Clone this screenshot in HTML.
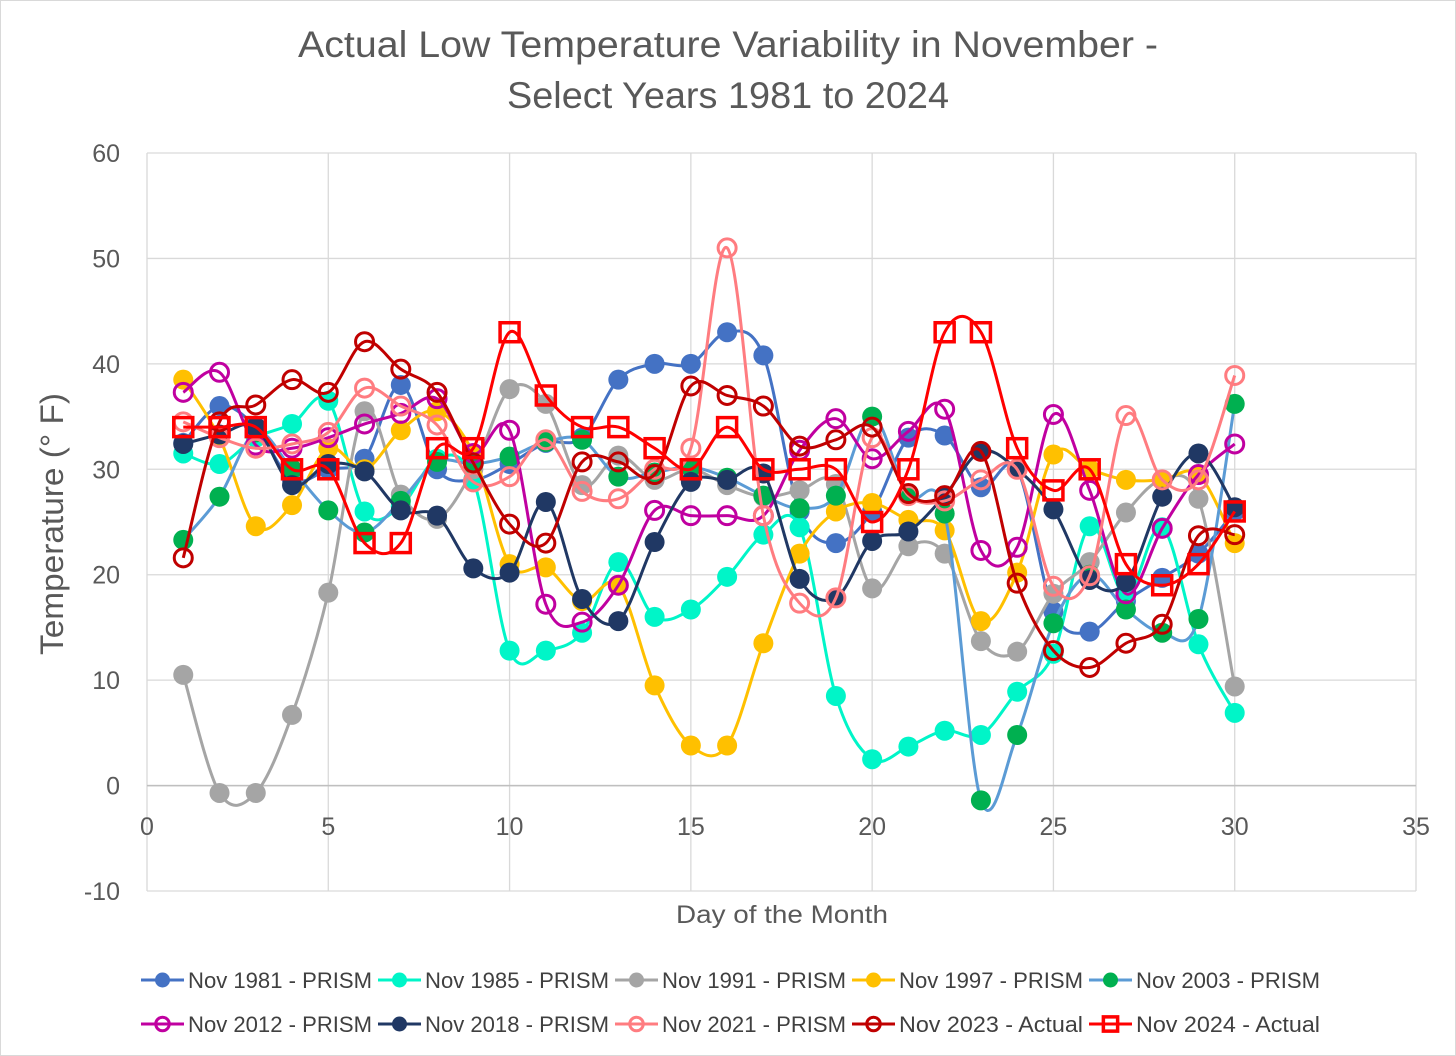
<!DOCTYPE html>
<html><head><meta charset="utf-8"><style>
html,body{margin:0;padding:0;background:#fff;}
svg{display:block;font-family:"Liberation Sans",sans-serif;}
</style></head><body>
<svg id="chart" width="1456" height="1056" viewBox="0 0 1456 1056" xmlns="http://www.w3.org/2000/svg">
<rect x="0.5" y="0.5" width="1455" height="1055" fill="#fff" stroke="#d9d9d9"/>
<text x="728" y="57" text-anchor="middle" font-size="37" fill="#595959" textLength="860" lengthAdjust="spacingAndGlyphs">Actual Low Temperature Variability in November -</text>
<text x="728" y="108" text-anchor="middle" font-size="37" fill="#595959" textLength="442" lengthAdjust="spacingAndGlyphs">Select Years 1981 to 2024</text>
<g id="grid"></g>
<g id="axes"></g>
<g id="series"></g>
<text x="63" y="524" text-anchor="middle" font-size="32" fill="#595959" textLength="262" lengthAdjust="spacingAndGlyphs" transform="rotate(-90 63 524)">Temperature (° F)</text>
<text x="782" y="923" text-anchor="middle" font-size="25" fill="#595959" textLength="212" lengthAdjust="spacingAndGlyphs">Day of the Month</text>
<g id="legend"></g>
</svg>
<script>
const days = [1,2,3,4,5,6,7,8,9,10,11,12,13,14,15,16,17,18,19,20,21,22,23,24,25,26,27,28,29,30];
const xTicks = [0,5,10,15,20,25,30,35];
const yTicks = [-10,0,10,20,30,40,50,60];
const seriesNames = ["Nov 1981 - PRISM","Nov 1985 - PRISM","Nov 1991 - PRISM","Nov 1997 - PRISM","Nov 2003 - PRISM","Nov 2012 - PRISM","Nov 2018 - PRISM","Nov 2021 - PRISM","Nov 2023 - Actual","Nov 2024 - Actual"];
const nov1981 = [32.5,36,34,29,30,31,38,30,29,30.5,32.5,33,38.5,40,40,43,40.8,26,23,26,33,33.2,28.3,30,16.5,14.6,17.5,19.7,22,26];
const nov1985 = [31.5,30.5,33,34.3,36.5,26,26.5,31,29,12.8,12.8,14.5,21.2,16,16.7,19.8,23.8,24.5,8.5,2.5,3.7,5.2,4.8,8.9,12.5,24.6,18,24.5,13.4,6.9];
const nov1991 = [10.5,-0.7,-0.7,6.7,18.3,35.5,27.6,25.3,30,37.6,36.2,28.5,31.3,29,30,28.5,27.4,28,28.6,18.7,22.7,22,13.7,12.7,18.2,21.2,25.9,29,27.2,9.4];
const nov1997 = [38.5,33,24.6,26.6,32,30,33.7,35.5,31.5,21,20.7,17.5,19,9.5,3.8,3.8,13.5,22,26,26.8,25.2,24.2,15.6,20.2,31.4,30,29,29,29.5,23];
const nov2003 = [23.3,27.4,33.5,30,26.1,24,27,30.7,30.5,31.2,32.6,32.8,29.3,29.7,30.2,29.2,27.5,26.3,27.5,35,27.5,25.8,-1.4,4.8,15.4,20,16.7,14.5,15.8,36.2];
const nov2012 = [37.3,39.2,32.3,32,33,34.3,35.3,36.7,31.5,33.7,17.2,15.5,19,26.1,25.6,25.6,25.6,31.8,34.8,31,33.6,35.7,22.3,22.6,35.2,28,18.2,24.4,29.5,32.4];
const nov2018 = [32.4,33.3,34,28.5,30.5,29.8,26.1,25.6,20.6,20.2,26.9,17.7,15.6,23.1,28.8,29,29.6,19.6,17.8,23.2,24.1,27.5,31.7,30,26.2,19.5,19.3,27.4,31.5,26.4];
const nov2021 = [34.5,33,32,32.4,33.5,37.7,36,34.2,28.8,29.3,32.8,27.9,27.2,30,32,51,25.6,17.3,17.8,33,27.5,27,29,30,18.9,19.9,35.1,29,29,38.9];
const nov2023 = [21.6,34.5,36.1,38.5,37.3,42.1,39.5,37.3,30.6,24.8,23,30.7,30.7,29.5,37.9,37,36,32.2,32.8,34,27.7,27.5,31.7,19.2,12.8,11.2,13.5,15.3,23.7,23.8];
const nov2024 = [34,34,34,30,30,23,23,32,32,43,37,34,34,32,30,34,30,30,30,25,30,43,43,32,28,30,21,19,21,26];

const NS="http://www.w3.org/2000/svg";
const L=147,R=1416,T=153,B=891;
const X=v=>L+(v-0)/(35-0)*(R-L);
const Y=v=>B-(v+10)/70*(B-T);
function mk(tag,attrs,parent){const e=document.createElementNS(NS,tag);for(const k in attrs)e.setAttribute(k,attrs[k]);parent.appendChild(e);return e;}
const grid=document.getElementById('grid'),axes=document.getElementById('axes'),sg=document.getElementById('series'),lg=document.getElementById('legend');
yTicks.forEach(t=>{
  const l=mk('line',{x1:L,x2:R,y1:Y(t),y2:Y(t),stroke:'#d9d9d9','stroke-width':1.3},grid);
  
  
  const tx=mk('text',{x:120,y:Y(t)+9,'text-anchor':'end','font-size':25,fill:'#595959'},axes);
  tx.textContent=t;
  
  
});
xTicks.forEach(t=>{
  const l=mk('line',{x1:X(t),x2:X(t),y1:T,y2:B,stroke:'#d9d9d9','stroke-width':1.3},grid);
  
  
  const tx=mk('text',{x:X(t),y:835,'text-anchor':'middle','font-size':25,fill:'#595959'},axes);
  tx.textContent=t;
  
  
});
const zl=mk('line',{x1:L,x2:R,y1:Y(0),y2:Y(0),stroke:'#bfbfbf','stroke-width':1.5},axes);



const colors=['#4472C4','#00F5C8','#A5A5A5','#FFC000','#00B050','#C000A0','#203864','#FF7C80','#C00000','#FF0000'];
const lineColors=['#4472C4','#00F5C8','#A5A5A5','#FFC000','#5B9BD5','#C000A0','#203864','#FF7C80','#C00000','#FF0000'];
const markers=['dot','dot','dot','dot','dot','ring','dot','ring','ring','square'];
const data=[nov1981,nov1985,nov1991,nov1997,nov2003,nov2012,nov2018,nov2021,nov2023,nov2024];

function smoothPath(pts){
  let d='M'+pts[0][0]+','+pts[0][1];
  for(let i=0;i<pts.length-1;i++){
    const p0=pts[i-1]||pts[i],p1=pts[i],p2=pts[i+1],p3=pts[i+2]||p2;
    const c1=[p1[0]+(p2[0]-p0[0])/6,p1[1]+(p2[1]-p0[1])/6];
    const c2=[p2[0]-(p3[0]-p1[0])/6,p2[1]-(p3[1]-p1[1])/6];
    d+=' C'+c1+' '+c2+' '+p2;
  }
  return d;
}
function marker(type,cx,cy,col,parent,scale){
  let e;
  if(type==='dot') e=mk('circle',{cx:cx,cy:cy,r:10*scale,fill:col},parent);
  else if(type==='ring') e=mk('circle',{cx:cx,cy:cy,r:9*scale,fill:'none',stroke:col,'stroke-width':3},parent);
  else e=mk('rect',{x:cx-9.5*scale,y:cy-9.5*scale,width:19*scale,height:19*scale,fill:'none',stroke:col,'stroke-width':3.5},parent);
  return e;
}
data.forEach((vals,si)=>{
  const g=mk('g',{},sg);
  
  
  const pts=vals.map((v,i)=>[X(days[i]),Y(v)]);
  const p=mk('path',{d:smoothPath(pts),fill:'none',stroke:lineColors[si],'stroke-width':3},g);
  
  
  pts.forEach(pt=>{
    const m=marker(markers[si],pt[0],pt[1],colors[si],g,1);
    
    
  });
});
const legX=[141,378,615,852,1089];
seriesNames.forEach((n,i)=>{
  const row=Math.floor(i/5),col=i%5;
  const x=legX[col],y=row?1024:980;
  const g=mk('g',{},lg);
  
  
  mk('line',{x1:x,x2:x+43,y1:y,y2:y,stroke:lineColors[i],'stroke-width':3},g);
  marker(markers[i],x+21.5,y,colors[i],g,0.75);
  const t=mk('text',{x:x+47,y:y+8,'font-size':22,fill:'#404040',textLength:184,lengthAdjust:'spacingAndGlyphs'},g);
  t.textContent=n;
});
</script>
</body></html>
